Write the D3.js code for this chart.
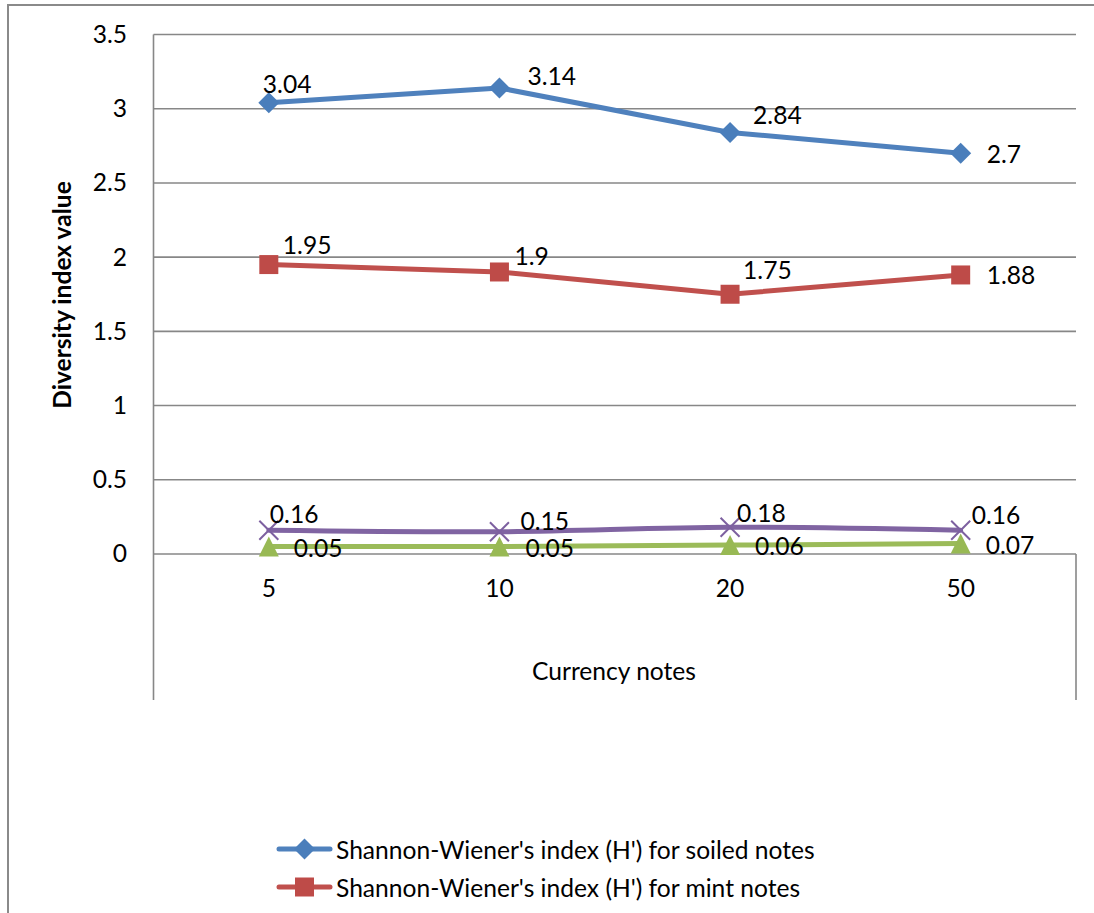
<!DOCTYPE html>
<html>
<head>
<meta charset="utf-8">
<script src="https://cdn.jsdelivr.net/npm/d3@7"></script>
<style>
  html, body { margin: 0; padding: 0; background: #fff; overflow: hidden; }
  svg { display: block; }
  text { font-family: Lato, "Open Sans", sans-serif; fill: #000; }
</style>
</head>
<body>
<svg id="chart" width="1094" height="913"></svg>
<script>
// Currency note denominations (x categories)
const categories = ["5", "10", "20", "50"];

// Diversity index values per denomination
const soiledShannon = [3.04, 3.14, 2.84, 2.7];
const mintShannon   = [1.95, 1.9, 1.75, 1.88];
const seriesThree   = [0.16, 0.15, 0.18, 0.16];
const seriesFour    = [0.05, 0.05, 0.06, 0.07];

const yTicks = [0, 0.5, 1, 1.5, 2, 2.5, 3, 3.5];

const legendNames = [
  "Shannon-Wiener's index (H') for soiled notes",
  "Shannon-Wiener's index (H') for mint notes"
];

const svg = d3.select("#chart");
const FS = 24.6;

// outer chart frame (runs off the right and bottom of the page)
svg.append("rect")
  .attr("x", 8).attr("y", 5).attr("width", 1200).attr("height", 1000)
  .attr("fill", "none").attr("stroke", "#8a8a8a").attr("stroke-width", 2);

const plot = { left: 153.5, right: 1076, top: 34.5, bottom: 554, floor: 700 };

const x = d3.scaleBand().domain(categories).range([plot.left, plot.right]);
const xc = c => x(c) + x.bandwidth() / 2;
const y = d3.scaleLinear().domain([0, 3.5]).range([plot.bottom, plot.top]);

// horizontal gridlines
svg.append("g").selectAll("line").data(yTicks).join("line")
  .attr("x1", plot.left).attr("x2", plot.right)
  .attr("y1", d => y(d)).attr("y2", d => y(d))
  .attr("stroke", "#878787").attr("stroke-width", 1.6);

// axis frame lines
svg.append("line").attr("x1", plot.left).attr("x2", plot.left)
  .attr("y1", plot.top).attr("y2", plot.floor)
  .attr("stroke", "#878787").attr("stroke-width", 1.6);
svg.append("line").attr("x1", plot.right).attr("x2", plot.right)
  .attr("y1", plot.bottom).attr("y2", plot.floor)
  .attr("stroke", "#878787").attr("stroke-width", 1.6);

// y tick labels
const yAxis = d3.axisLeft(y).tickValues(yTicks).tickSize(0).tickPadding(0)
  .tickFormat(d => String(d));
const yG = svg.append("g").attr("transform", `translate(127,0)`).call(yAxis);
yG.select(".domain").remove();
yG.selectAll("text").attr("font-size", FS).attr("font-family", "Lato").attr("fill", "#000");

// x tick labels
const xAxis = d3.axisBottom(x).tickSize(0).tickPadding(0);
const xG = svg.append("g").attr("transform", `translate(0,580)`).call(xAxis);
xG.select(".domain").remove();
xG.selectAll("text").attr("font-size", FS).attr("font-family", "Lato").attr("fill", "#000");

// axis titles
svg.append("text")
  .attr("transform", "translate(61,295) rotate(-90)")
  .attr("text-anchor", "middle").attr("dominant-baseline", "central")
  .attr("font-size", FS).attr("font-weight", "bold")
  .text("Diversity index value");
svg.append("text")
  .attr("x", 614).attr("y", 670)
  .attr("text-anchor", "middle").attr("dominant-baseline", "central")
  .attr("font-size", FS)
  .text("Currency notes");

// marker shapes
const markerPath = {
  diamond: r => `M0,${-r}L${r},0L0,${r}L${-r},0Z`,
  square: r => `M${-r},${-r}H${r}V${r}H${-r}Z`,
  triangle: r => `M0,${-r}L${r},${r}H${-r}Z`,
  cross: r => `M${-r},${-r}L${r},${r}M${r},${-r}L${-r},${r}`
};

const series = [
  { values: soiledShannon, line: "#4F81BD", mark: "#4A7EBB", shape: "diamond", size: 10.5,
    curve: d3.curveLinear,
    offs: [[-6, -19], [28, -12], [23, -18], [26, 0]] },
  { values: mintShannon, line: "#C0504D", mark: "#BE4B48", shape: "square", size: 9.5,
    curve: d3.curveLinear,
    offs: [[14, -20], [15, -16], [13, -25], [26, 0]] },
  { values: seriesThree, line: "#8064A2", mark: "#7D60A0", shape: "cross", size: 9.5,
    curve: d3.curveCatmullRom.alpha(0.5),
    offs: [[1, -17], [21, -11], [7, -15], [11, -16]] },
  { values: seriesFour, line: "#9BBB59", mark: "#98B954", shape: "triangle", size: 10,
    curve: d3.curveLinear,
    offs: [[25, 1], [26, 1], [25, 0], [25, 1]] }
];

series.forEach(s => {
  const pts = s.values.map((v, i) => [xc(categories[i]), y(v)]);
  const g = svg.append("g");
  g.append("path")
    .attr("d", d3.line().curve(s.curve)(pts))
    .attr("fill", "none").attr("stroke", s.line).attr("stroke-width", 5)
    .attr("stroke-linejoin", "round").attr("stroke-linecap", "round");
  g.selectAll("path.mk").data(pts).join("path").attr("class", "mk")
    .attr("transform", d => `translate(${d[0]},${d[1]})`)
    .attr("d", markerPath[s.shape](s.size))
    .attr("fill", s.shape === "cross" ? "none" : s.mark)
    .attr("stroke", s.mark)
    .attr("stroke-width", s.shape === "cross" ? 2 : 0);
});

// value labels
series.forEach(s => {
  svg.append("g").selectAll("text").data(s.values).join("text")
    .attr("x", (v, i) => xc(categories[i]) + s.offs[i][0])
    .attr("y", (v, i) => y(v) + s.offs[i][1])
    .attr("dominant-baseline", "central")
    .attr("font-size", FS)
    .text(v => String(v));
});

// legend (first two entries)
legendNames.forEach((name, i) => {
  const s = series[i];
  const ly = 849 + i * 38;
  const g = svg.append("g");
  g.append("line").attr("x1", 279).attr("x2", 330).attr("y1", ly).attr("y2", ly)
    .attr("stroke", s.line).attr("stroke-width", 5).attr("stroke-linecap", "round");
  g.append("path").attr("transform", `translate(304.5,${ly})`)
    .attr("d", markerPath[s.shape](s.size))
    .attr("fill", s.mark);
  g.append("text").attr("x", 336).attr("y", ly)
    .attr("dominant-baseline", "central").attr("font-size", FS)
    .text(name);
});
</script>
</body>
</html>
